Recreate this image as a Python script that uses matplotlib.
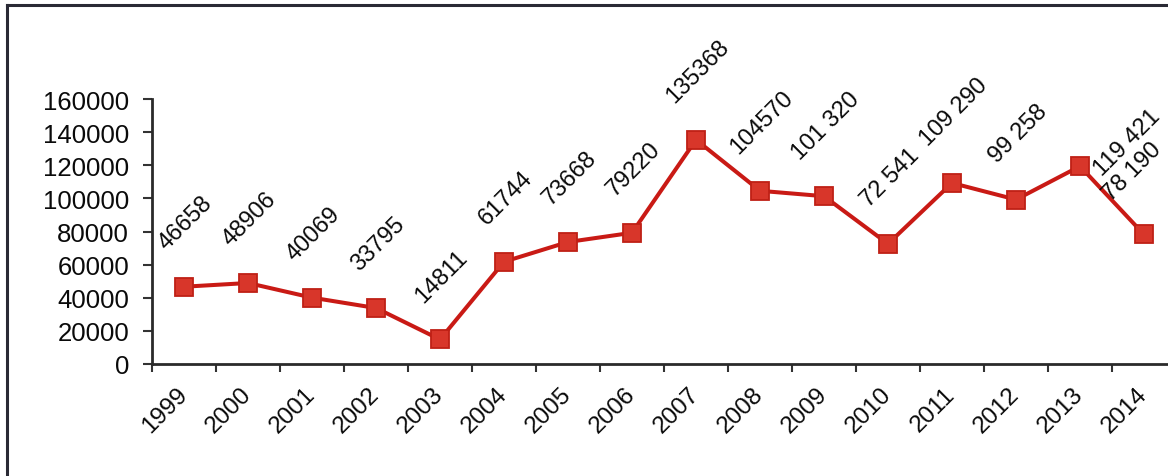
import matplotlib
matplotlib.use("Agg")
import matplotlib.pyplot as plt
from matplotlib.lines import Line2D
import numpy as np

years = ["1999", "2000", "2001", "2002", "2003", "2004", "2005", "2006",
         "2007", "2008", "2009", "2010", "2011", "2012", "2013", "2014"]
values = [46658, 48906, 40069, 33795, 14811, 61744, 73668, 79220,
          135368, 104570, 101320, 72541, 109290, 99258, 119421, 78190]
value_labels = ["46658", "48906", "40069", "33795", "14811", "61744", "73668", "79220",
                "135368", "104570", "101 320", "72 541", "109 290", "99 258", "119 421", "78 190"]
y_ticks = [0, 20000, 40000, 60000, 80000, 100000, 120000, 140000, 160000]

plt.rcParams['font.family'] = ['Liberation Sans', 'DejaVu Sans']

W, H = 1168, 477
fig = plt.figure(figsize=(W / 100, H / 100), dpi=100)
fig.patch.set_facecolor('white')

# scanned frame (top and left edges)
fx, fy = 7 / W, 1 - 6 / H
fig.add_artist(Line2D([fx, 1.0], [fy, fy], transform=fig.transFigure, color='#2a2a35', lw=2.2))
fig.add_artist(Line2D([fx, fx], [0, fy], transform=fig.transFigure, color='#2a2a35', lw=2.2))

ax = fig.add_axes([152 / W, 1 - 365 / H, 1024 / W, 265 / H])
x = np.arange(len(years))
ax.plot(x, values, color='#c91a15', lw=2.9, marker='s', markersize=13,
        markerfacecolor='#d8362a', markeredgecolor='#bf2016', markeredgewidth=1.3,
        zorder=3, clip_on=False)

ax.set_xlim(-0.5, len(years) - 0.5)
ax.set_ylim(0, 160000)
ax.set_yticks(y_ticks)
ax.set_yticklabels([str(v) for v in y_ticks], fontsize=18.5, color='#0a0a0a')
ax.set_xticks(x)
ax.set_xticklabels(years, fontsize=17.5, rotation=45, ha='right', va='center',
                   rotation_mode='anchor', color='#0a0a0a')
ax.set_xticks(np.arange(-0.5, len(years), 1.0), minor=True)
ax.tick_params(axis='x', which='major', length=0, pad=19)
ax.tick_params(axis='x', which='minor', length=6, width=1.5, direction='out', color='#333333')
ax.tick_params(axis='y', which='major', length=6.5, width=1.5, direction='out', pad=10, color='#333333')

for s in ['top', 'right']:
    ax.spines[s].set_visible(False)
for s in ['left', 'bottom']:
    ax.spines[s].set_color('#2a2a2a')
    ax.spines[s].set_linewidth(2.0)

offsets = {14: (47, -13), 15: (-12, 30)}
for i, (v, lab) in enumerate(zip(values, value_labels)):
    dx, dy = offsets.get(i, (2, 33))
    ax.annotate(lab, (x[i], v), xytext=(dx, dy), textcoords='offset pixels',
                ha='center', va='bottom', rotation=45, fontsize=17, color='#0a0a0a',
                annotation_clip=False)

fig.savefig('out.png', dpi=100, facecolor='white')
